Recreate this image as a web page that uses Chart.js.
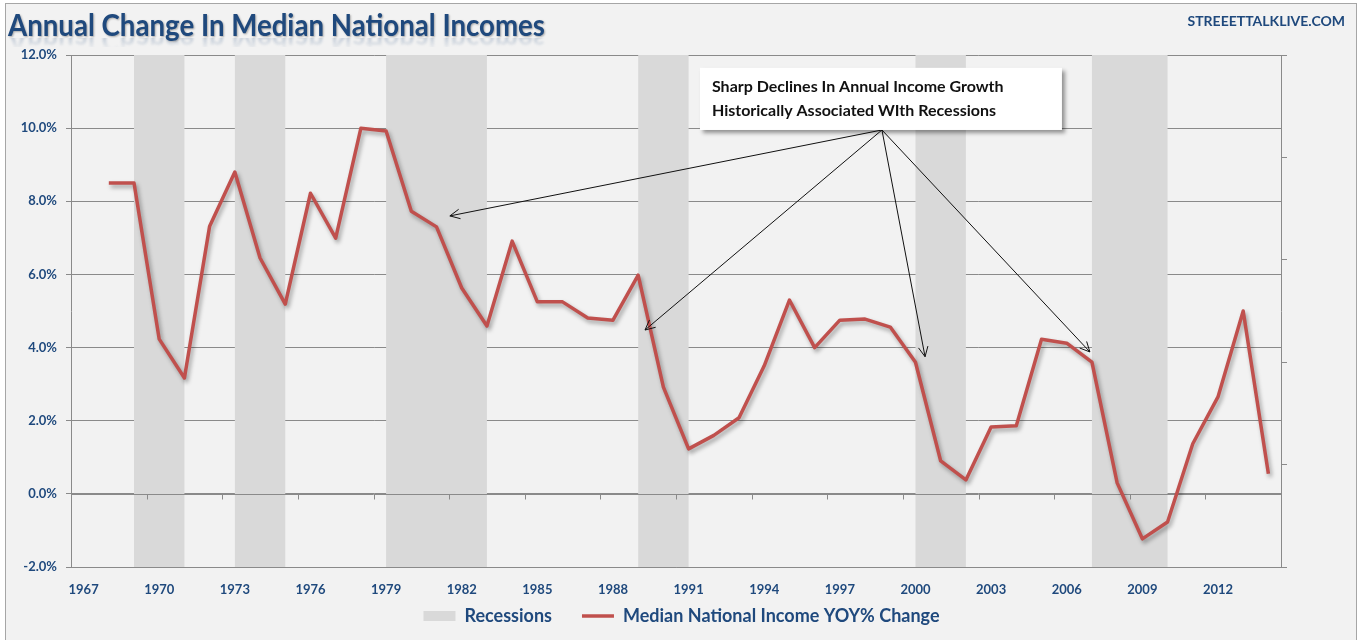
<!DOCTYPE html>
<html>
<head>
<meta charset="utf-8">
<title>Annual Change In Median National Incomes</title>
<script src="https://cdn.jsdelivr.net/npm/chart.js@4.4.1/dist/chart.umd.min.js"></script>
<style>
    html, body { margin: 0; padding: 0; background: #fff; }
    #wrap { width: 1363px; height: 640px; }
</style>
</head>
<body>
<div id="wrap"><canvas id="incomeChart" width="1363" height="640"></canvas></div>
<script>
// Categories (one per year)
const YEARS = [
    '1967', '1968', '1969', '1970', '1971', '1972', '1973', '1974', '1975', '1976',
    '1977', '1978', '1979', '1980', '1981', '1982', '1983', '1984', '1985', '1986',
    '1987', '1988', '1989', '1990', '1991', '1992', '1993', '1994', '1995', '1996',
    '1997', '1998', '1999', '2000', '2001', '2002', '2003', '2004', '2005', '2006',
    '2007', '2008', '2009', '2010', '2011', '2012', '2013', '2014'
];

// Median national income, YOY % change
const INCOME_YOY = [
    null, 8.5, 8.5, 4.23, 3.17, 7.32, 8.8, 6.45, 5.19, 8.22,
    6.99, 10.0, 9.92, 7.73, 7.3, 5.63, 4.59, 6.91, 5.25, 5.25,
    4.81, 4.75, 5.98, 2.92, 1.23, 1.6, 2.08, 3.5, 5.3, 4.0,
    4.75, 4.78, 4.56, 3.6, 0.9, 0.38, 1.83, 1.86, 4.23, 4.12,
    3.6, 0.3, -1.23, -0.77, 1.37, 2.65, 5.0, 0.55
];

// Recession flag, held from that year to the next
const RECESSION = [
    0, 0, 1, 1, 0, 0, 1, 1, 0, 0,
    0, 0, 1, 1, 1, 1, 0, 0, 0, 0,
    0, 0, 1, 1, 0, 0, 0, 0, 0, 0,
    0, 0, 0, 1, 1, 0, 0, 0, 0, 0,
    1, 1, 1, 0, 0, 0, 0, 0
];

const Y_MIN = -2;
const Y_MAX = 12;
const Y_STEP = 2;
const LABEL_EVERY = 3;

const TITLE = 'Annual Change In Median National Incomes';
const SOURCE = 'STREEETTALKLIVE.COM';
const LEGEND_LABELS = ['Recessions', 'Median National Income YOY% Change'];

// Callout, in category-index / value units
const NOTE_LINES = ['Sharp Declines In Annual Income Growth', 'Historically Associated WIth Recessions'];
const NOTE_BOX = { from: 24.45, to: 38.81, top: 11.65, bottom: 9.95 };
const ARROW_FROM = [31.67, 9.95];
const ARROW_TIPS = [[14.53, 7.6], [22.27, 4.48], [33.38, 3.75], [39.92, 3.88]];

// Colors
const NAVY = '#1f497d';
const LINE_RED = '#c0504d';
const BAND_GRAY = '#d9d9d9';
const GRID_GRAY = '#8a8a8a';
const PANEL_BG = '#f2f2f2';

const LEGEND_FONT = 18;
const LEGEND_GAP = 30;
const LEGEND_CENTER_Y = 616;

Chart.defaults.font.family = 'Lato, "Open Sans", sans-serif';

/**
 * Frame, background and the title with its reflection
 */
const framePlugin = {
    id: 'frame',
    beforeDraw(chart) {
        const ctx = chart.ctx;
        ctx.save();
        ctx.fillStyle = '#fff';
        ctx.fillRect(0, 0, chart.width, chart.height);
        ctx.fillStyle = PANEL_BG;
        ctx.fillRect(5, 3, 1352, 700);
        ctx.strokeStyle = '#a6a6a6';
        ctx.lineWidth = 1;
        ctx.strokeRect(5.5, 3.5, 1351, 700);

        // title
        const base = 36;
        ctx.font = 'bold 30px Lato';
        const sx = 537 / ctx.measureText(TITLE).width;
        ctx.save();
        ctx.translate(8, 0);
        ctx.scale(sx, 1);
        ctx.shadowColor = 'rgba(0, 0, 0, 0.3)';
        ctx.shadowBlur = 2;
        ctx.shadowOffsetX = 1;
        ctx.shadowOffsetY = 1;
        ctx.fillStyle = NAVY;
        ctx.textBaseline = 'alphabetic';
        ctx.fillText(TITLE, 0, base);
        ctx.restore();

        // faint reflection under the title
        ctx.save();
        ctx.beginPath();
        ctx.rect(0, base + 2, 600, 9);
        ctx.clip();
        ctx.filter = 'blur(1px)';
        ctx.translate(8, 2 * base + 3);
        ctx.scale(sx, -1);
        const grad = ctx.createLinearGradient(0, base, 0, base - 10);
        grad.addColorStop(0, 'rgba(31,73,125,0.2)');
        grad.addColorStop(1, 'rgba(31,73,125,0)');
        ctx.fillStyle = grad;
        ctx.fillText(TITLE, 0, base);
        ctx.restore();

        // source
        ctx.font = 'bold 14px Lato';
        ctx.fillStyle = NAVY;
        ctx.textAlign = 'right';
        ctx.textBaseline = 'middle';
        ctx.fillText(SOURCE, 1345, 21);
        ctx.restore();
    }
};

/**
 * Move the legend up next to the axis labels
 */
const legendSpotPlugin = {
    id: 'legendSpot',
    afterLayout(chart) {
        const lg = chart.legend;
        lg.top = LEGEND_CENTER_Y - LEGEND_GAP - LEGEND_FONT / 2;
        lg.bottom = LEGEND_CENTER_Y + LEGEND_FONT;
        lg.height = lg.bottom - lg.top;
    }
};

/**
 * Zero axis over the bands, and a soft shadow under the income line
 */
const lineShadowPlugin = {
    id: 'lineShadow',
    beforeDatasetDraw(chart, args) {
        if (args.index !== 1) return;
        const ctx = chart.ctx;
        const x = chart.scales.x;
        const y = chart.scales.y;
        const y0 = Math.round(y.getPixelForValue(0)) + 0.5;
        ctx.save();
        ctx.strokeStyle = GRID_GRAY;
        ctx.lineWidth = 1;
        ctx.beginPath();
        ctx.moveTo(x.left, y0);
        ctx.lineTo(x.right, y0);
        for (let i = LABEL_EVERY; i < YEARS.length; i += LABEL_EVERY) {
            const px = Math.round(x.getPixelForValue(i - 0.5)) + 0.5;
            ctx.moveTo(px, y0);
            ctx.lineTo(px, y0 + 5);
        }
        ctx.stroke();
        ctx.restore();

        ctx.save();
        ctx.shadowColor = 'rgba(0, 0, 0, 0.35)';
        ctx.shadowBlur = 4;
        ctx.shadowOffsetX = 2;
        ctx.shadowOffsetY = 3;
    },
    afterDatasetDraw(chart, args) {
        if (args.index !== 1) return;
        chart.ctx.restore();
    }
};

/**
 * Callout box with arrows
 */
const calloutPlugin = {
    id: 'callout',
    afterDatasetsDraw(chart) {
        const ctx = chart.ctx;
        const x = chart.scales.x;
        const y = chart.scales.y;
        const left = x.getPixelForValue(NOTE_BOX.from);
        const right = x.getPixelForValue(NOTE_BOX.to);
        const top = y.getPixelForValue(NOTE_BOX.top);
        const bottom = y.getPixelForValue(NOTE_BOX.bottom);

        ctx.save();
        // arrows
        const ox = x.getPixelForValue(ARROW_FROM[0]);
        const oy = y.getPixelForValue(ARROW_FROM[1]);
        ctx.strokeStyle = '#111';
        ctx.lineWidth = 1;
        ARROW_TIPS.forEach(([ix, v]) => {
            const tx = x.getPixelForValue(ix);
            const ty = y.getPixelForValue(v);
            const ang = Math.atan2(ty - oy, tx - ox);
            const head = 11;
            ctx.beginPath();
            ctx.moveTo(ox, oy);
            ctx.lineTo(tx, ty);
            ctx.moveTo(tx - head * Math.cos(ang - 0.45), ty - head * Math.sin(ang - 0.45));
            ctx.lineTo(tx, ty);
            ctx.lineTo(tx - head * Math.cos(ang + 0.45), ty - head * Math.sin(ang + 0.45));
            ctx.stroke();
        });

        // box
        ctx.save();
        ctx.shadowColor = 'rgba(0, 0, 0, 0.4)';
        ctx.shadowBlur = 4;
        ctx.shadowOffsetX = 3;
        ctx.shadowOffsetY = 3;
        ctx.fillStyle = '#fff';
        ctx.fillRect(left, top, right - left, bottom - top);
        ctx.restore();

        ctx.fillStyle = '#111';
        ctx.font = 'bold 16px Lato';
        ctx.textBaseline = 'middle';
        NOTE_LINES.forEach((line, i) => {
            ctx.fillText(line, left + 12, top + 19 + i * 24);
        });
        ctx.restore();
    }
};

const ctx = document.getElementById('incomeChart').getContext('2d');
const incomeChart = new Chart(ctx, {
    type: 'line',
    data: {
        labels: YEARS,
        datasets: [
            {
                label: LEGEND_LABELS[0],
                data: RECESSION,
                yAxisID: 'y2',
                stepped: 'before',
                fill: 'origin',
                backgroundColor: BAND_GRAY,
                borderColor: 'rgba(0,0,0,0)',
                borderWidth: 0,
                pointRadius: 0,
                order: 2
            },
            {
                label: LEGEND_LABELS[1],
                data: INCOME_YOY,
                yAxisID: 'y',
                borderColor: LINE_RED,
                backgroundColor: LINE_RED,
                borderWidth: 3.5,
                borderJoinStyle: 'round',
                pointRadius: 0,
                tension: 0,
                fill: false,
                order: 1
            }
        ]
    },
    options: {
        responsive: false,
        animation: false,
        devicePixelRatio: 1,
        layout: {
            padding: { left: 0, right: 0, top: 55, bottom: 10 }
        },
        scales: {
            x: {
                type: 'category',
                offset: true,
                grid: { display: false, drawTicks: false },
                border: { display: true, color: GRID_GRAY },
                ticks: {
                    autoSkip: false,
                    maxRotation: 0,
                    padding: 15,
                    color: NAVY,
                    font: { size: 13, weight: 'bold' },
                    callback: (val, i) => (i % LABEL_EVERY === 0 ? YEARS[i] : '')
                },
                afterFit: (scale) => { scale.height = 33; }
            },
            y: {
                position: 'left',
                min: Y_MIN,
                max: Y_MAX,
                grid: { color: GRID_GRAY, tickLength: 5 },
                border: { color: GRID_GRAY },
                ticks: {
                    stepSize: Y_STEP,
                    padding: 9,
                    color: NAVY,
                    font: { size: 13, weight: 'bold' },
                    callback: (v) => v.toFixed(1) + '%'
                },
                afterFit: (scale) => { scale.width = 71; }
            },
            y2: {
                position: 'right',
                min: 0,
                max: 1,
                grid: { drawOnChartArea: false, color: GRID_GRAY, tickLength: 6 },
                border: { color: GRID_GRAY },
                ticks: {
                    stepSize: 0.2,
                    padding: 0,
                    callback: () => ''
                },
                afterFit: (scale) => { scale.width = 82; }
            }
        },
        plugins: {
            title: { display: false },
            tooltip: { enabled: false },
            legend: {
                position: 'bottom',
                maxHeight: 30,
                labels: {
                    usePointStyle: true,
                    pointStyleWidth: 32,
                    boxHeight: 10,
                    padding: LEGEND_GAP,
                    color: NAVY,
                    font: { size: LEGEND_FONT, weight: 'bold' },
                    generateLabels: () => [
                        {
                            text: LEGEND_LABELS[0],
                            fillStyle: BAND_GRAY,
                            strokeStyle: BAND_GRAY,
                            lineWidth: 0,
                            pointStyle: 'rect',
                            fontColor: NAVY,
                            hidden: false,
                            datasetIndex: 0
                        },
                        {
                            text: LEGEND_LABELS[1],
                            fillStyle: LINE_RED,
                            strokeStyle: LINE_RED,
                            lineWidth: 3.5,
                            pointStyle: 'line',
                            fontColor: NAVY,
                            hidden: false,
                            datasetIndex: 1
                        }
                    ]
                }
            }
        }
    },
    plugins: [framePlugin, legendSpotPlugin, lineShadowPlugin, calloutPlugin]
});
</script>
</body>
</html>
